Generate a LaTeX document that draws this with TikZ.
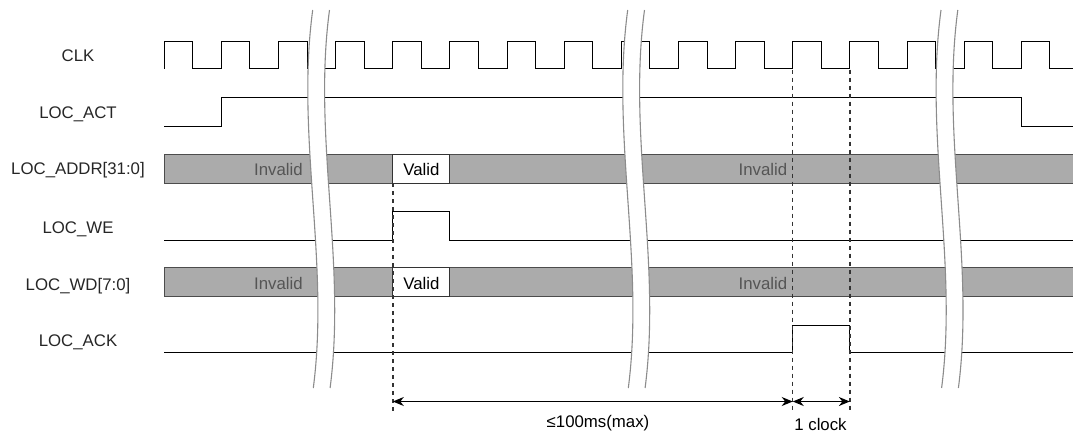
\documentclass[tikz,border=0pt]{standalone}
\usepackage{fontspec}
\setmainfont{Liberation Sans}
\usetikzlibrary{arrows.meta}
\definecolor{bandgray}{HTML}{ABABAB}
\definecolor{invtext}{HTML}{555555}
\definecolor{brkgray}{HTML}{8C8C8C}
\newcommand\brkmark[1]{%
  \fill[white] (#1,10) .. controls (#1-17,136) and (#1+17,262) .. (#1+0.6,388)
     -- (#1+17.4,388) .. controls (#1+33.8,262) and (#1-0.2,136) .. (#1+16.8,10) -- cycle;
  \draw[brk] (#1,10) .. controls (#1-17,136) and (#1+17,262) .. (#1+0.6,388);
  \draw[brk] (#1+16.8,10) .. controls (#1-0.2,136) and (#1+33.8,262) .. (#1+17.4,388);
}
\begin{document}
\begin{tikzpicture}[x=1pt,y=-1pt,
  every node/.style={font=\fontsize{16.8}{20}\selectfont},
  sig/.style={line width=1pt, black, line join=miter},
  band/.style={fill=bandgray, draw=black!70, line width=1pt},
  validbox/.style={fill=white, draw=black!80, line width=1pt},
  lbl/.style={anchor=base, text=black!85, inner sep=0pt},
  inv/.style={anchor=base, text=invtext, inner sep=0pt},
  val/.style={anchor=base, text=black, inner sep=0pt},
  brk/.style={draw=brkgray, line width=1.1pt},
  guide/.style={draw=black!80, line width=1.5pt, dash pattern=on 4pt off 4pt},
  dim/.style={draw=black, line width=1.2pt, {Stealth[length=11pt,width=9pt,inset=3.5pt]}-{Stealth[length=11pt,width=9pt,inset=3.5pt]}}
]
\useasboundingbox (0,0) rectangle (1073,432);
\clip (0,0) rectangle (1073,432);

% labels
\node[lbl] (lclk)  at (78,61.8)  {CLK};
\node[lbl] (lact)  at (78,118)   {LOC\_ACT};
\node[lbl] (laddr) at (78,174.7) {LOC\_ADDR[31:0]};
\node[lbl] (lwe)   at (78,233)   {LOC\_WE};
\node[lbl] (lwd)   at (78,290)   {LOC\_WD[7:0]};
\node[lbl] (lack)  at (78,346.4) {LOC\_ACK};

% CLK
\draw[sig] (164.3,68.7) \foreach \k in {0,...,15} { -- ++(0,-27.7) -- ++(28.565,0) -- ++(0,27.7) -- ++(28.565,0) };

% LOC_ACT
\draw[sig] (164.3,126) -- (221.43,126) -- (221.43,97.3) -- (1021.25,97.3) -- (1021.25,126) -- (1080,126);

% LOC_ADDR
\draw[band] (164.3,154.3) rectangle (1085,183.3);
\draw[validbox] (392.82,154.3) rectangle (449.95,183.3);
\node[inv] (ainv1) at (278.5,175.5) {Invalid};
\node[val] (aval)  at (421.4,175.5) {Valid};
\node[inv] (ainv2) at (763,175.5) {Invalid};

% LOC_WE
\draw[sig] (164.3,240) -- (392.82,240) -- (392.82,211.7) -- (449.95,211.7) -- (449.95,240) -- (1080,240);

% LOC_WD
\draw[band] (164.3,267.7) rectangle (1085,296.7);
\draw[validbox] (392.82,267.7) rectangle (449.95,296.7);
\node[inv] (winv1) at (278.5,289.5) {Invalid};
\node[val] (wval)  at (421.4,289.5) {Valid};
\node[inv] (winv2) at (763,289.5) {Invalid};

% LOC_ACK
\draw[sig] (164.3,352.7) -- (792.73,352.7) -- (792.73,325) -- (849.86,325) -- (849.86,352.7) -- (1080,352.7);

% breaks
\brkmark{312.7}
\brkmark{627.7}
\brkmark{941}

% guide lines
\coordinate (g1t) at (392.82,183.3);
\coordinate (g1b) at (392.82,412);
\coordinate (g2t) at (792.73,69.5);
\coordinate (g2b) at (792.73,412);
\coordinate (g3t) at (849.86,69.5);
\coordinate (g3b) at (849.86,412);
\draw[guide] (g1t) -- (g1b);
\draw[guide] (g2t) -- (g2b);
\draw[guide] (g3t) -- (g3b);

% dimension arrows
\coordinate (d1) at (392.82,401.5);
\coordinate (d2) at (792.73,401.5);
\coordinate (d3) at (849.86,401.5);
\draw[dim] (d1) -- (d2);
\draw[dim] (d2) -- (d3);
\node[val] (tmax) at (598,427.5) {≤100ms(max)};
\node[val] (tclk) at (820.5,430.5) {1 clock};
\end{tikzpicture}
\end{document}
